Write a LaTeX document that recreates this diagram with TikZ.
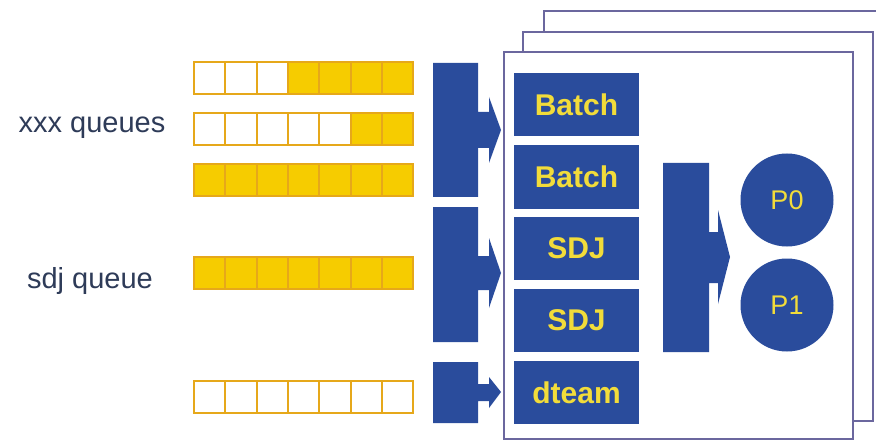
\documentclass[tikz,border=0pt]{standalone}
\usepackage{fontspec}
\setmainfont{Liberation Sans}
\definecolor{qblue}{HTML}{2A4C9C}
\definecolor{qyel}{HTML}{F6CC00}
\definecolor{qedge}{HTML}{E6A81A}
\definecolor{qtext}{HTML}{F2DC3A}
\definecolor{qframe}{HTML}{6B679E}
\definecolor{qlabel}{HTML}{2E3B58}
\begin{document}
\begin{tikzpicture}[x=1pt,y=-1pt,
  cellfull/.style={fill=qyel,draw=qedge,line width=2pt},
  cellempty/.style={fill=white,draw=qedge,line width=2pt},
  frame/.style={fill=white,draw=qframe,line width=2.6pt},
  jobbox/.style={fill=qblue,draw=none,minimum width=125pt,minimum height=63pt,inner sep=0pt,text=qtext,font=\fontsize{30}{30}\selectfont\bfseries},
  proc/.style={circle,fill=qblue,draw=none,minimum size=93pt,inner sep=0pt,text=qtext,font=\fontsize{27}{27}\selectfont},
  qlab/.style={text=qlabel,font=\fontsize{29}{29}\selectfont,inner sep=0pt},
  blockarrow/.style={fill=qblue,draw=none}]
\useasboundingbox (0,0) rectangle (876,441);
% frames
\fill[white] (544,11) rectangle (900,400);
\draw[qframe,line width=2.6pt] (900,11) -- (544,11) -- (544,40);
\draw[frame] (523,32) rectangle (873,421);
\draw[frame] (504,52) rectangle (853,439);
% queue labels
\node[qlab] (lx) at (92,128) {xxx queues};
\node[qlab] (ls) at (90,281) {sdj queue};
% queues
\def\cw{31.3}
\foreach \row/\y/\nempty in {1/62/3,2/113/5,3/164/0,4/257/0,5/381/7}{
  \foreach \i in {0,...,6}{
    \pgfmathtruncatemacro\isempty{\i<\nempty ? 1 : 0}
    \ifnum\isempty=1
      \draw[cellempty] (194+\i*\cw,\y) rectangle ++(\cw,32);
    \else
      \draw[cellfull] (194+\i*\cw,\y) rectangle ++(\cw,32);
    \fi
  }
}
% block arrows
\fill[blockarrow] (433,63) -- (478,63) -- (478,112) -- (489,112) -- (489,97) -- (501,130) -- (489,163) -- (489,148) -- (478,148) -- (478,197) -- (433,197) -- cycle;
\fill[blockarrow] (433,207) -- (478,207) -- (478,256) -- (489,256) -- (489,238) -- (501,273) -- (489,308) -- (489,290) -- (478,290) -- (478,342) -- (433,342) -- cycle;
\fill[blockarrow] (433,362) -- (478,362) -- (478,384) -- (489,384) -- (489,377) -- (501,392) -- (489,408) -- (489,401) -- (478,401) -- (478,423) -- (433,423) -- cycle;
\fill[blockarrow] (663,163) -- (709,163) -- (709,232) -- (718,232) -- (718,210) -- (730,257) -- (718,304) -- (718,283) -- (709,283) -- (709,352) -- (663,352) -- cycle;
% job boxes
\node[jobbox] (b1) at (576.5,104.5) {Batch};
\node[jobbox] (b2) at (576.5,177) {Batch};
\node[jobbox] (s1) at (576.5,248.5) {SDJ};
\node[jobbox] (s2) at (576.5,320.5) {SDJ};
\node[jobbox] (dt) at (576.5,392.5) {dteam};
% processors
\node[proc] (p0) at (787,200) {P0};
\node[proc] (p1) at (787,305) {P1};
\end{tikzpicture}
\end{document}
